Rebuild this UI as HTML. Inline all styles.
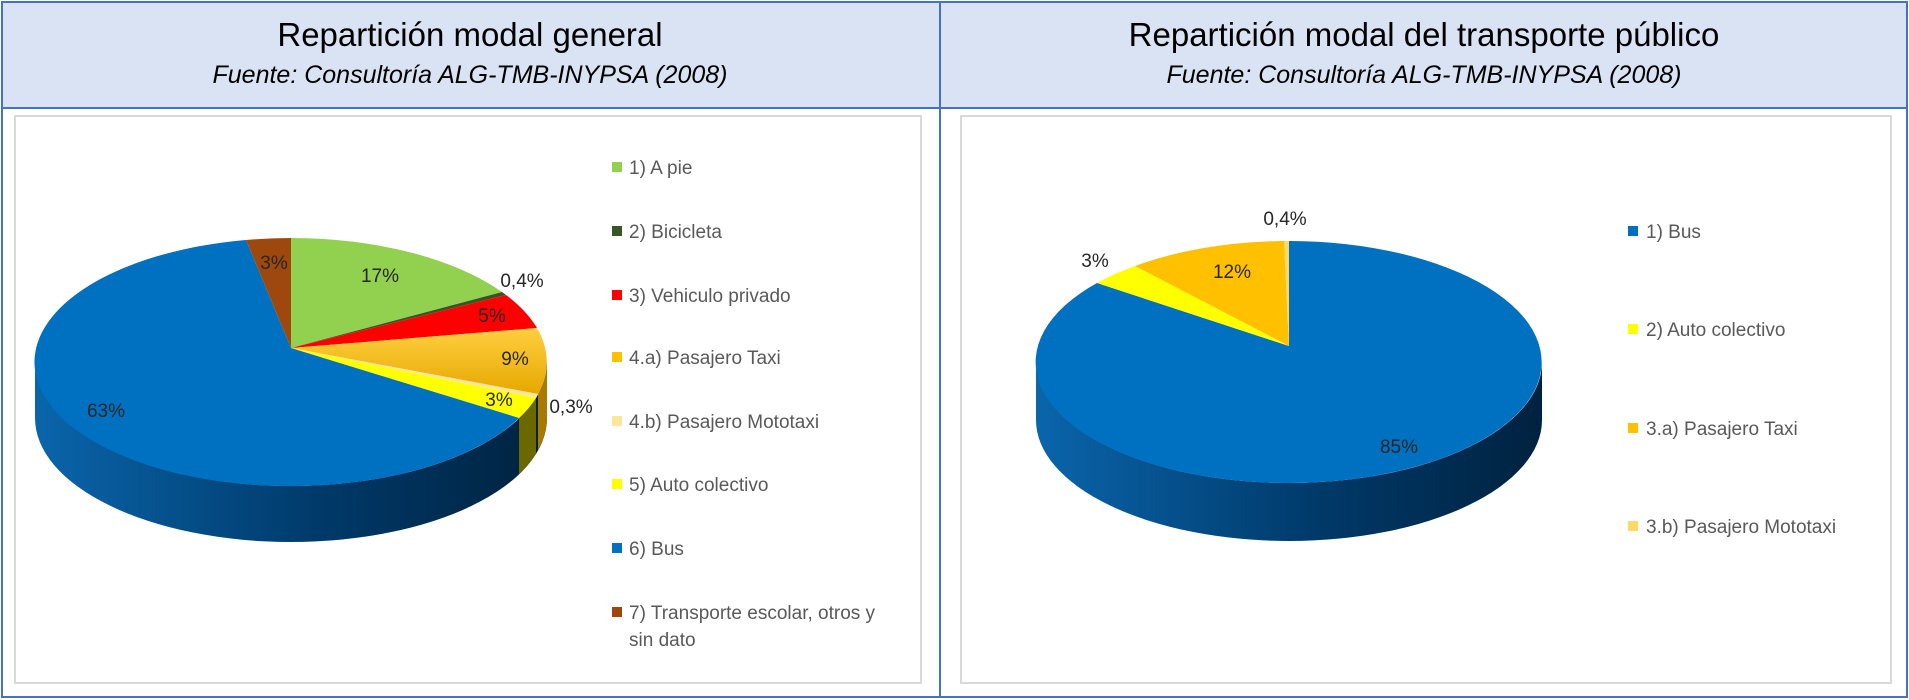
<!DOCTYPE html>
<html><head><meta charset="utf-8"><style>
html,body{margin:0;padding:0;background:#fff}
svg{display:block}
text{font-family:"Liberation Sans",sans-serif}
</style></head><body>
<svg width="1909" height="700" viewBox="0 0 1909 700" xmlns="http://www.w3.org/2000/svg">
<defs>
<linearGradient id="side" x1="0" y1="0" x2="1" y2="0">
<stop offset="0" stop-color="#0a65ab"/><stop offset="0.55" stop-color="#003a6a"/><stop offset="1" stop-color="#00223f"/></linearGradient>
<linearGradient id="org" x1="0" y1="0" x2="0" y2="1">
<stop offset="0" stop-color="#ffcf40"/><stop offset="1" stop-color="#e6a800"/></linearGradient>
</defs>
<rect x="0" y="0" width="1909" height="700" fill="#fff"/>
<rect x="2" y="2" width="1905" height="106" fill="#dae3f3"/>
<rect x="2" y="2" width="1905" height="695" fill="none" stroke="#4472c4" stroke-width="2"/>
<line x1="2" y1="108" x2="1907" y2="108" stroke="#4472c4" stroke-width="2"/>
<line x1="940" y1="2" x2="940" y2="697" stroke="#4472c4" stroke-width="2"/>
<text x="470" y="46" font-size="33" text-anchor="middle" fill="#000">Repartición modal general</text>
<text x="470" y="83" font-size="25" font-style="italic" text-anchor="middle" fill="#000">Fuente: Consultoría ALG-TMB-INYPSA (2008)</text>
<text x="1424" y="46" font-size="33" text-anchor="middle" fill="#000">Repartición modal del transporte público</text>
<text x="1424" y="83" font-size="25" font-style="italic" text-anchor="middle" fill="#000">Fuente: Consultoría ALG-TMB-INYPSA (2008)</text>
<rect x="15" y="116" width="906" height="567" fill="#fff" stroke="#d9d9d9" stroke-width="2"/>
<rect x="961" y="116" width="930" height="567" fill="#fff" stroke="#d9d9d9" stroke-width="2"/>

<!-- Left pie -->
<path d="M35 362 L35 418 A256 124 0 0 0 547 418 L547 362 A256 124 0 0 1 35 362 Z" fill="url(#side)"/>
<path d="M547 362 A256 124 0 0 1 538 394 L538 450 A256 124 0 0 0 547 418 Z" fill="#a87a00"/>
<path d="M536 398 A256 124 0 0 1 519 418 L519 474 A256 124 0 0 0 536 454 Z" fill="#6b6800"/>
<g>
<path d="M291 348 L291 238 A256 124 0 0 1 502 292 Z" fill="#92d050"/>
<path d="M291 348 L502 292 A256 124 0 0 1 506 295 Z" fill="#375623"/>
<path d="M291 348 L506 295 A256 124 0 0 1 537 328 Z" fill="#ff0000"/>
<path d="M291 348 L537 328 A256 124 0 0 1 538 394 Z" fill="url(#org)"/>
<path d="M291 348 L538 394 A256 124 0 0 1 536 398 Z" fill="#ffe699"/>
<path d="M291 348 L536 398 A256 124 0 0 1 519 418 Z" fill="#ffff00"/>
<path d="M291 348 L519 418 A256 124 0 1 1 246 240 Z" fill="#0070c0"/>
<path d="M291 348 L246 240 A256 124 0 0 1 291 238 Z" fill="#9e480e"/>
</g>
<g font-size="19" fill="#262626" text-anchor="middle">
<text x="274" y="269">3%</text>
<text x="380" y="282">17%</text>
<text x="522" y="287">0,4%</text>
<text x="492" y="322">5%</text>
<text x="515" y="365">9%</text>
<text x="499" y="406">3%</text>
<text x="571" y="413">0,3%</text>
<text x="106" y="417">63%</text>
</g>
<g font-size="19" fill="#595959">
<rect x="612" y="162" width="10" height="10" fill="#92d050"/><text x="629" y="174">1) A pie</text>
<rect x="612" y="226" width="10" height="10" fill="#375623"/><text x="629" y="238">2) Bicicleta</text>
<rect x="612" y="290" width="10" height="10" fill="#ff0000"/><text x="629" y="302">3) Vehiculo privado</text>
<rect x="612" y="352" width="10" height="10" fill="#ffc000"/><text x="629" y="364">4.a) Pasajero Taxi</text>
<rect x="612" y="416" width="10" height="10" fill="#ffe699"/><text x="629" y="428">4.b) Pasajero Mototaxi</text>
<rect x="612" y="479" width="10" height="10" fill="#ffff00"/><text x="629" y="491">5) Auto colectivo</text>
<rect x="612" y="543" width="10" height="10" fill="#0070c0"/><text x="629" y="555">6) Bus</text>
<rect x="612" y="607" width="10" height="10" fill="#9e480e"/><text x="629" y="619">7) Transporte escolar, otros y</text>
<text x="629" y="646">sin dato</text>
</g>

<!-- Right pie -->
<path d="M1036 362 L1036 420 A253 121 0 0 0 1542 420 L1542 362 A253 121 0 0 1 1036 362 Z" fill="url(#side)"/>
<path d="M1289 346 L1289 241 A253 121 0 1 1 1097 283 Z" fill="#0070c0"/>
<path d="M1289 346 L1097 283 A253 121 0 0 1 1135 266 Z" fill="#ffff00"/>
<path d="M1289 346 L1135 266 A253 121 0 0 1 1284 241 Z" fill="#ffc000"/>
<path d="M1289 346 L1284 241 A253 121 0 0 1 1289 241 Z" fill="#ffd966"/>
<g font-size="19" fill="#262626" text-anchor="middle">
<text x="1285" y="225">0,4%</text>
<text x="1095" y="267">3%</text>
<text x="1232" y="278">12%</text>
<text x="1399" y="453">85%</text>
</g>
<g font-size="19" fill="#595959">
<rect x="1628" y="226" width="10" height="10" fill="#0070c0"/><text x="1646" y="238">1) Bus</text>
<rect x="1628" y="324" width="10" height="10" fill="#ffff00"/><text x="1646" y="336">2) Auto colectivo</text>
<rect x="1628" y="423" width="10" height="10" fill="#ffc000"/><text x="1646" y="435">3.a) Pasajero Taxi</text>
<rect x="1628" y="521" width="10" height="10" fill="#ffd966"/><text x="1646" y="533">3.b) Pasajero Mototaxi</text>
</g>
</svg>
</body></html>
